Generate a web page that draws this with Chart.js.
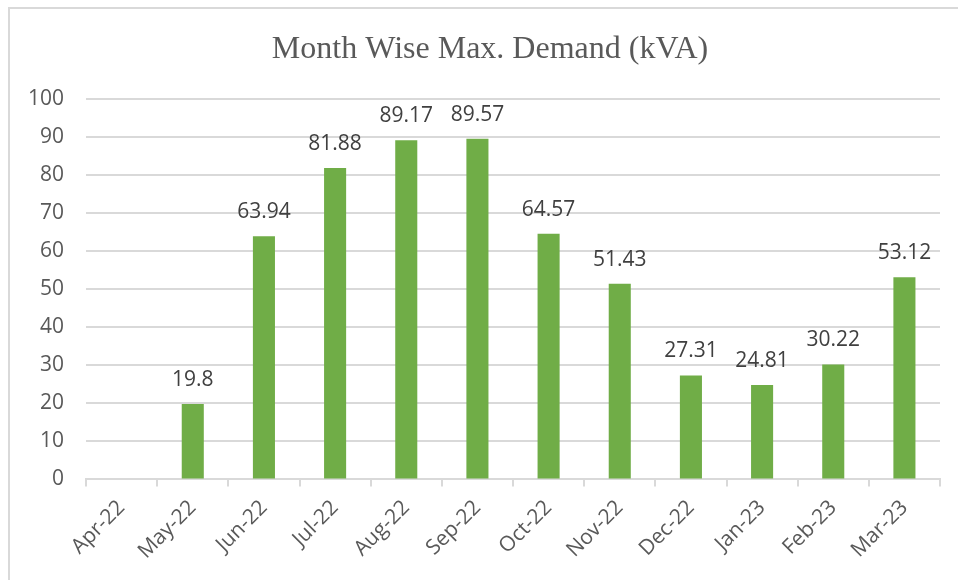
<!DOCTYPE html>
<html>
<head>
<meta charset="utf-8">
<title>Month Wise Max. Demand (kVA)</title>
<script src="https://cdn.jsdelivr.net/npm/chart.js@4.4.1/dist/chart.umd.min.js"></script>
<style>
    body { margin: 0; background: #fff; }
    #wrap { position: relative; width: 958px; height: 580px; }
</style>
</head>
<body>
<div id="wrap"><canvas id="demandChart"></canvas></div>
<script>
// Chart data
const chartTitle = 'Month Wise Max. Demand (kVA)';
const months = ['Apr-22', 'May-22', 'Jun-22', 'Jul-22', 'Aug-22', 'Sep-22',
    'Oct-22', 'Nov-22', 'Dec-22', 'Jan-23', 'Feb-23', 'Mar-23'];
const maxDemand = [null, 19.8, 63.94, 81.88, 89.17, 89.57, 64.57, 51.43, 27.31, 24.81, 30.22, 53.12];
const yTicks = [0, 10, 20, 30, 40, 50, 60, 70, 80, 90, 100];

const tickFont = { family: 'Open Sans', size: 21 };

// White background + outer frame
const frame = {
    id: 'frame',
    beforeDraw(chart) {
        const ctx = chart.ctx;
        ctx.save();
        ctx.fillStyle = '#fff';
        ctx.fillRect(0, 0, chart.width, chart.height);
        ctx.strokeStyle = '#d9d9d9';
        ctx.lineWidth = 2;
        ctx.strokeRect(9, 8, chart.width + 20, chart.height + 20);
        ctx.restore();
    }
};

// Title, centred on the outer frame (which runs past the right edge)
const frameTitle = {
    id: 'frameTitle',
    afterDraw(chart) {
        const ctx = chart.ctx;
        ctx.save();
        ctx.font = '32px "Liberation Serif"';
        ctx.fillStyle = '#595959';
        ctx.textAlign = 'center';
        ctx.textBaseline = 'middle';
        ctx.fillText(chartTitle, 490, 50);
        ctx.restore();
    }
};

// Value labels above bars
const valueLabels = {
    id: 'valueLabels',
    afterDatasetsDraw(chart) {
        const ctx = chart.ctx;
        const meta = chart.getDatasetMeta(0);
        ctx.save();
        ctx.font = '21px "Open Sans"';
        ctx.fillStyle = '#404040';
        ctx.textAlign = 'center';
        ctx.textBaseline = 'alphabetic';
        meta.data.forEach((bar, i) => {
            const v = maxDemand[i];
            if (v === null) return;
            ctx.fillText(String(v), bar.x, bar.y - 18);
        });
        ctx.restore();
    }
};

new Chart(document.getElementById('demandChart'), {
    type: 'bar',
    data: {
        labels: months,
        datasets: [{
            data: maxDemand,
            backgroundColor: '#70ad47',
            borderWidth: 0,
            categoryPercentage: 1,
            barPercentage: 0.31
        }]
    },
    options: {
        responsive: true,
        maintainAspectRatio: false,
        animation: false,
        layout: { padding: { left: 6, right: 18, top: 99, bottom: 7 } },
        plugins: {
            legend: { display: false },
            tooltip: { enabled: false },
            title: { display: false }
        },
        scales: {
            y: {
                min: 0,
                max: 100,
                afterBuildTicks(axis) {
                    axis.ticks = yTicks.map(v => ({ value: v }));
                },
                grid: { color: '#d9d9d9', lineWidth: 2, drawTicks: false },
                border: { display: false },
                ticks: { color: '#595959', font: tickFont, padding: 22 }
            },
            x: {
                grid: {
                    color: '#d9d9d9',
                    lineWidth: 2,
                    drawOnChartArea: false,
                    drawTicks: true,
                    tickLength: 7
                },
                border: { color: '#d9d9d9', width: 2 },
                ticks: {
                    color: '#595959',
                    font: tickFont,
                    minRotation: 45,
                    maxRotation: 45,
                    padding: 9
                }
            }
        }
    },
    plugins: [frame, frameTitle, valueLabels]
});
</script>
</body>
</html>
